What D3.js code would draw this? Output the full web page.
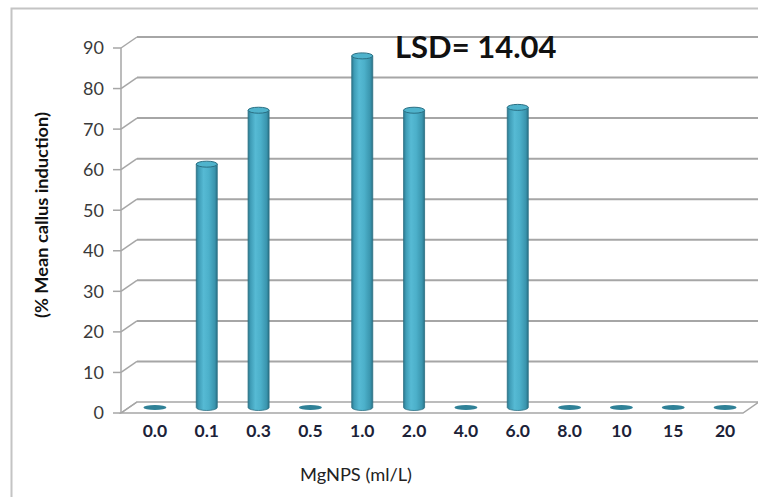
<!DOCTYPE html>
<html><head><meta charset="utf-8">
<script src="https://cdn.jsdelivr.net/npm/d3@7/dist/d3.min.js"></script>
<style>body{margin:0;background:#fff}svg{display:block}</style>
</head><body>
<svg id="c" width="758" height="497"></svg>
<script>
const categories = ["0.0","0.1","0.3","0.5","1.0","2.0","4.0","6.0","8.0","10","15","20"];
const values = [0, 60, 73.3, 0, 86.7, 73.3, 0, 74, 0, 0, 0, 0];
const yTicks = [0,10,20,30,40,50,60,70,80,90];
const yTitle = "(% Mean callus induction)";
const xTitle = "MgNPS (ml/L)";
const note = "LSD= 14.04";

const svg = d3.select("#c");
const W = 758, H = 497;
const dx = 16, dy = -11;
const x = d3.scaleBand().domain(categories).range([121, 743]);
const y = d3.scaleLinear().domain([0, 90]).range([413, 48]);

// outer frame
svg.append("rect").attr("x", 11.5).attr("y", 8.5).attr("width", 800).attr("height", 600)
  .attr("fill", "#fff").attr("stroke", "#c4c4c4").attr("stroke-width", 2);

const defs = svg.append("defs");
const g1 = defs.append("linearGradient").attr("id", "cyl").attr("x1", 0).attr("x2", 1).attr("y1", 0).attr("y2", 0);
[[0,"#2d7a90"],[0.12,"#3f9db7"],[0.35,"#56bad4"],[0.6,"#4cb0ca"],[0.88,"#3a95ae"],[1,"#2a7186"]]
  .forEach(([o,c]) => g1.append("stop").attr("offset", o).attr("stop-color", c));

const grid = "#a6a6a6";
// floor
svg.append("path")
  .attr("d", `M${x.range()[0]},${y(0)} L${x.range()[1]},${y(0)} L${x.range()[1]+dx},${y(0)+dy} L${x.range()[0]+dx},${y(0)+dy} Z`)
  .attr("fill", "#fff").attr("stroke", grid).attr("stroke-width", 1.5);

// back wall gridlines + left wall diagonals
yTicks.forEach(t => {
  const yy = y(t);
  if (t > 0) {
    svg.append("line").attr("x1", x.range()[0]+dx).attr("x2", W+5).attr("y1", yy+dy).attr("y2", yy+dy)
      .attr("stroke", grid).attr("stroke-width", 2);
  }
  svg.append("line").attr("x1", x.range()[0]).attr("x2", x.range()[0]+dx).attr("y1", yy).attr("y2", yy+dy)
    .attr("stroke", grid).attr("stroke-width", 1.5);
  svg.append("line").attr("x1", x.range()[0]-8).attr("x2", x.range()[0]).attr("y1", yy).attr("y2", yy)
    .attr("stroke", grid).attr("stroke-width", 1.5);
  svg.append("text").attr("x", 104).attr("y", yy).attr("dy", "0.36em").attr("text-anchor", "end")
    .attr("font-family", "Lato, sans-serif").attr("font-size", 18).attr("fill", "#3a3a3a").text(t);
});
// front axis line
svg.append("line").attr("x1", x.range()[0]).attr("x2", x.range()[0]).attr("y1", y(90)).attr("y2", y(0))
  .attr("stroke", grid).attr("stroke-width", 1.5);

// bars
const bw = 21, ry = 3;
categories.forEach((c, i) => {
  const cx = x(c) + x.bandwidth()/2 + dx/2;
  const base = y(0) + dy/2;
  const top = y(values[i]) + dy/2;
  const gb = svg.append("g");
  if (values[i] > 0) {
    gb.append("path")
      .attr("d", `M${cx-bw/2},${top} L${cx-bw/2},${base} A${bw/2},${ry} 0 0 0 ${cx+bw/2},${base} L${cx+bw/2},${top} Z`)
      .attr("fill", "url(#cyl)").attr("stroke", "#2a6f83").attr("stroke-width", 0.8);
    gb.append("ellipse").attr("cx", cx).attr("cy", top).attr("rx", bw/2).attr("ry", ry)
      .attr("fill", "#4fb3cc").attr("stroke", "#2a6f83").attr("stroke-width", 1);
  } else {
    gb.append("ellipse").attr("cx", cx).attr("cy", base).attr("rx", bw/2 + 1).attr("ry", 2.5)
      .attr("fill", "#2f8197");
  }
  svg.append("text").attr("x", cx).attr("y", 431).attr("dy", "0.36em").attr("text-anchor", "middle")
    .attr("font-family", "Lato, sans-serif").attr("font-weight", "bold").attr("font-size", 17.5)
    .attr("fill", "#1c2238").text(c);
});

// titles
svg.append("text").attr("transform", "translate(42,215) rotate(-90)").attr("text-anchor", "middle")
  .attr("dy", "0.35em").attr("font-family", "Lato, sans-serif").attr("font-weight", "bold")
  .attr("font-size", 16.5).attr("textLength", 206).attr("lengthAdjust", "spacingAndGlyphs")
  .attr("fill", "#111").text(yTitle);
svg.append("text").attr("x", 356).attr("y", 475).attr("dy", "0.35em").attr("text-anchor", "middle")
  .attr("font-family", "Lato, sans-serif").attr("font-size", 17).attr("textLength", 112)
  .attr("lengthAdjust", "spacingAndGlyphs").attr("fill", "#222").text(xTitle);
svg.append("text").attr("x", 395).attr("y", 58).attr("font-family", "Lato, sans-serif")
  .attr("font-weight", "bold").attr("font-size", 31).attr("fill", "#111").text(note);
</script>
</body></html>
